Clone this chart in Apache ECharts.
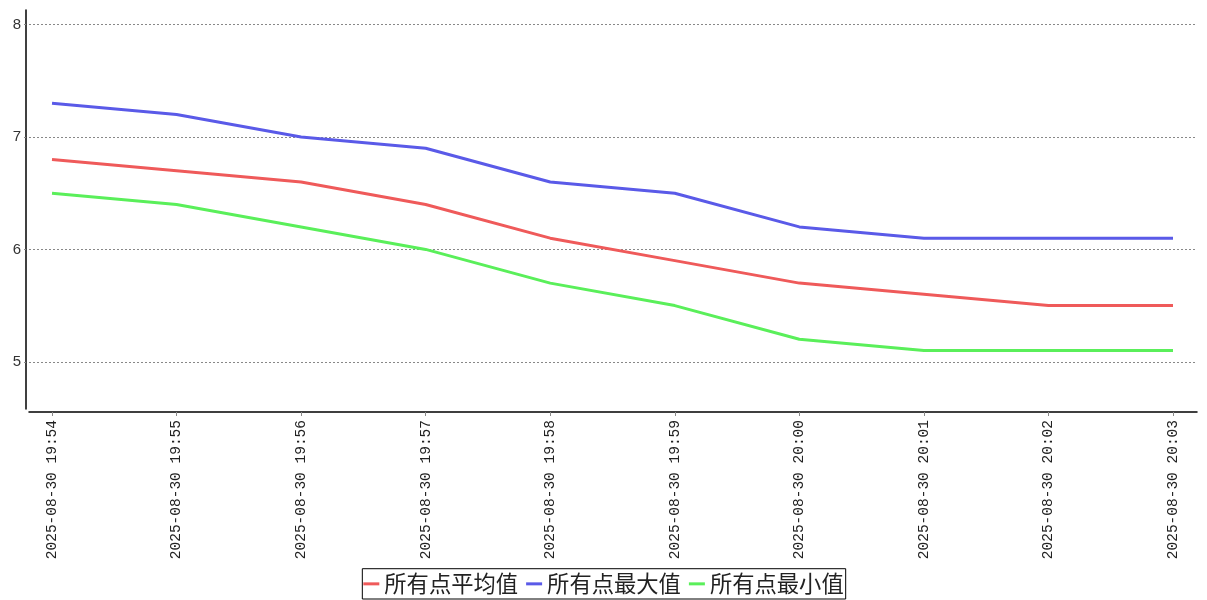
<!DOCTYPE html>
<html>
<head>
<meta charset="utf-8">
<script src="https://cdn.jsdelivr.net/npm/echarts@6/dist/echarts.min.js"></script>
<style>html,body{margin:0;padding:0;background:#fff}#c{width:1207px;height:600px}</style>
</head>
<body>
<div id="c"></div>
<script>
var categories = ['2025-08-30 19:54','2025-08-30 19:55','2025-08-30 19:56','2025-08-30 19:57','2025-08-30 19:58','2025-08-30 19:59','2025-08-30 20:00','2025-08-30 20:01','2025-08-30 20:02','2025-08-30 20:03'];
var avgValues = [6.8, 6.7, 6.6, 6.4, 6.1, 5.9, 5.7, 5.6, 5.5, 5.5];
var maxValues = [7.3, 7.2, 7.0, 6.9, 6.6, 6.5, 6.2, 6.1, 6.1, 6.1];
var minValues = [6.5, 6.4, 6.2, 6.0, 5.7, 5.5, 5.2, 5.1, 5.1, 5.1];
var yTicks = [5, 6, 7, 8];
var seriesNames = ['所有点平均值', '所有点最大值', '所有点最小值'];
var colors = ['#ef5a5a', '#5a5ae8', '#5aef5a'];

function pairs(arr){ return arr.map(function(v,i){ return [i, v]; }); }
var catIdx = categories.map(function(c,i){ return i; });

var chart = echarts.init(document.getElementById('c'), null, {renderer:'canvas'});
var labelFont = 'Liberation Mono, DejaVu Sans Mono, monospace';
chart.setOption({
  animation: false,
  backgroundColor: '#fff',
  grid: {left: 29, right: 10, top: 10, bottom: 191, containLabel: false},
  xAxis: {
    type: 'value',
    min: -0.1847, max: 9.1927,
    offset: 3,
    axisLine: {show: true, onZero: false, lineStyle: {color: '#000', width: 1.5}},
    axisTick: {show: true, length: 4, lineStyle: {color: '#888'}, customValues: catIdx},
    axisLabel: {
      customValues: catIdx,
      rotate: 90, margin: 8,
      color: '#222', fontFamily: labelFont, fontSize: 14.5,
      formatter: function(v){ return categories[Math.round(v)] || ''; }
    },
    splitLine: {show: false}
  },
  yAxis: {
    type: 'value',
    min: 4.58, max: 8.13,
    offset: 3,
    axisLine: {show: true, onZero: false, lineStyle: {color: '#000', width: 1.5}},
    axisTick: {show: true, length: 2, lineStyle: {color: '#888'}, customValues: yTicks},
    axisLabel: {customValues: yTicks, margin: 5, color: '#333', fontFamily: 'Liberation Sans, sans-serif', fontSize: 15},
    splitLine: {show: true, lineStyle: {color: '#888', type: [2, 2], width: 1}}
  },
  legend: {
    bottom: 1, left: 'center',
    data: seriesNames,
    icon: 'rect', itemWidth: 16, itemHeight: 3, itemGap: 8,
    borderColor: '#000', borderWidth: 1, borderRadius: 0,
    padding: [4, 2, 4, 1],
    textStyle: {fontFamily: 'Noto Sans CJK SC', fontSize: 22.3, color: '#222'}
  },
  series: seriesNames.map(function(n, k){
    return {
      name: n, type: 'line',
      data: pairs([avgValues, maxValues, minValues][k]),
      showSymbol: false, symbol: 'none',
      lineStyle: {width: 3, color: colors[k]},
      itemStyle: {color: colors[k]}
    };
  })
});
</script>
</body>
</html>
